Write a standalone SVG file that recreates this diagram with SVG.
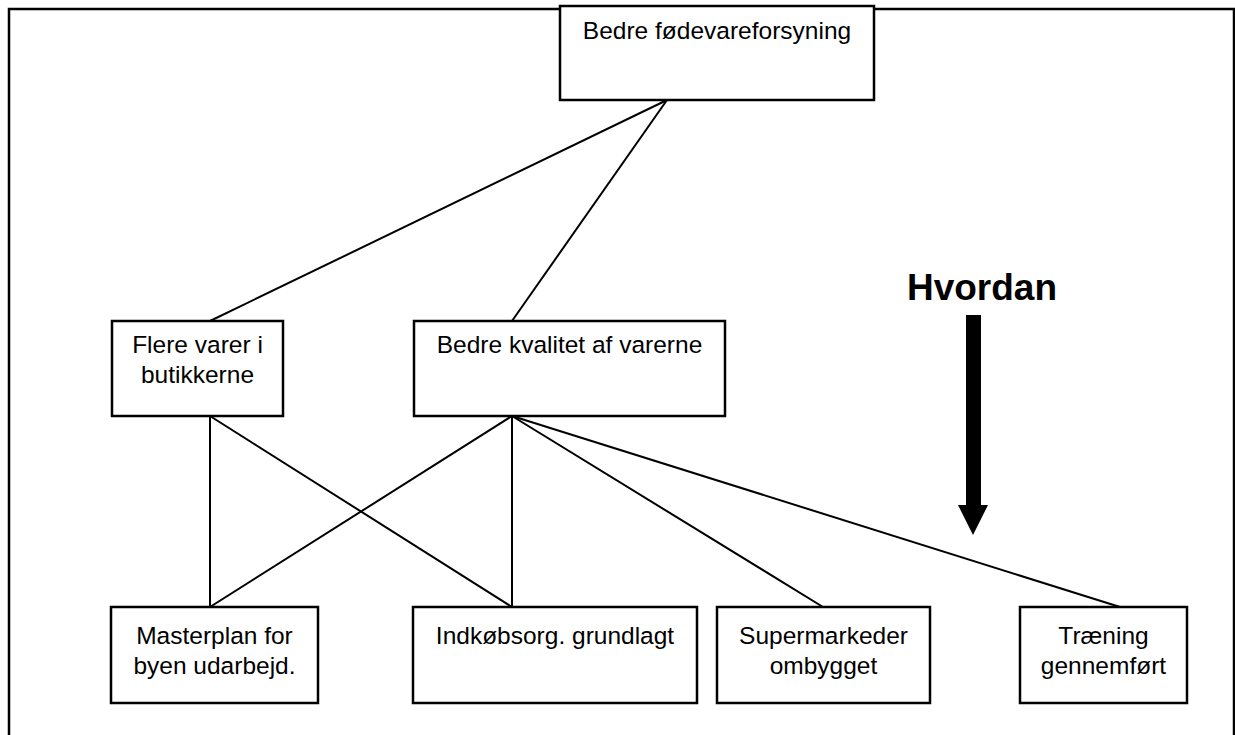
<svg xmlns="http://www.w3.org/2000/svg" width="1235" height="735" viewBox="0 0 1235 735">
  <style>
    .frame { fill: none; stroke: #000; stroke-width: 2.5; }
    .box { fill: #fff; stroke: #000; stroke-width: 2.5; }
    .label { font-family: "Liberation Sans", Arial, sans-serif; font-size: 24.5px; fill: #000; text-anchor: middle; }
    .link { stroke: #000; stroke-width: 2; fill: none; }
    .title { font-family: "Liberation Sans", Arial, sans-serif; font-size: 37px; font-weight: bold; fill: #000; text-anchor: middle; }
  </style>
  <rect width="1235" height="735" fill="#fff"/>
  <!-- outer frame, open at the bottom edge -->
  <rect class="frame" x="9" y="9" width="1225" height="745"/>

  <!-- connectors -->
  <g id="connectors">
    <line class="link" x1="667" y1="100" x2="210" y2="321"/>
    <line class="link" x1="667" y1="100" x2="512" y2="321"/>
    <line class="link" x1="210" y1="416" x2="210" y2="607"/>
    <line class="link" x1="210" y1="416" x2="512" y2="607"/>
    <line class="link" x1="512" y1="416" x2="210" y2="607"/>
    <line class="link" x1="512" y1="416" x2="512" y2="607"/>
    <line class="link" x1="512" y1="416" x2="823" y2="607"/>
    <line class="link" x1="512" y1="416" x2="1120" y2="607"/>
  </g>

  <g id="goal">
    <rect class="box" x="560" y="6" width="314" height="94"/>
    <text class="label" x="717" y="39">Bedre fødevareforsyning</text>
  </g>

  <g id="more-goods">
    <rect class="box" x="112" y="321" width="171" height="95"/>
    <text class="label" x="197.5" y="353">Flere varer i</text>
    <text class="label" x="197.5" y="383">butikkerne</text>
  </g>

  <g id="better-quality">
    <rect class="box" x="414" y="321" width="311" height="95"/>
    <text class="label" x="569.5" y="353">Bedre kvalitet af varerne</text>
  </g>

  <g id="masterplan">
    <rect class="box" x="111" y="607" width="207" height="96"/>
    <text class="label" x="214.5" y="644">Masterplan for</text>
    <text class="label" x="214.5" y="674">byen udarbejd.</text>
  </g>

  <g id="purchasing">
    <rect class="box" x="413" y="607" width="284" height="96"/>
    <text class="label" x="555" y="644">Indkøbsorg. grundlagt</text>
  </g>

  <g id="supermarkets">
    <rect class="box" x="717" y="607" width="213" height="96"/>
    <text class="label" x="823.5" y="644">Supermarkeder</text>
    <text class="label" x="823.5" y="674">ombygget</text>
  </g>

  <g id="training">
    <rect class="box" x="1020" y="607" width="167" height="96"/>
    <text class="label" x="1103.5" y="644">Træning</text>
    <text class="label" x="1103.5" y="674">gennemført</text>
  </g>

  <!-- direction indicator -->
  <g id="how">
    <text class="title" x="982" y="300">Hvordan</text>
    <rect x="966" y="315" width="15" height="191" fill="#000"/>
    <polygon points="958,505 988,505 973,535" fill="#000"/>
  </g>
</svg>
